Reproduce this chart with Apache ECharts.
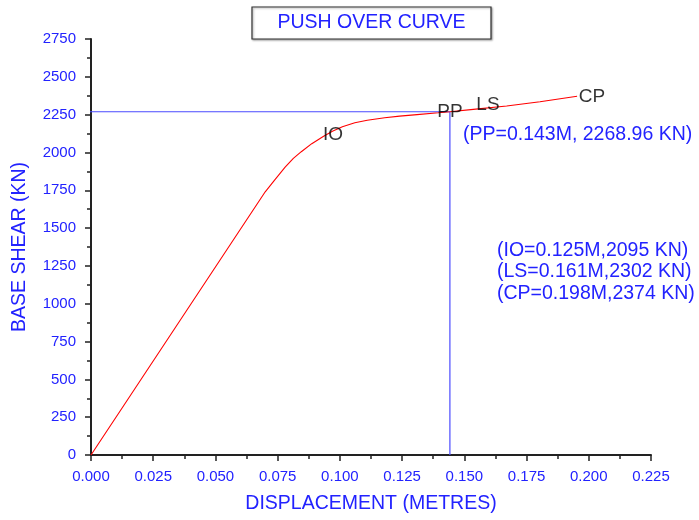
<!DOCTYPE html>
<html>
<head>
<meta charset="utf-8">
<script src="https://cdn.jsdelivr.net/npm/echarts@6/dist/echarts.min.js"></script>
<style>
html,body{margin:0;padding:0;background:#fff;}
#chart{width:699px;height:520px;}
</style>
</head>
<body>
<div id="chart"></div>
<script>
// Pushover curve data (displacement in m, base shear in kN)
var dispX = [0, 0.070, 0.074, 0.078, 0.0813, 0.0845, 0.0887, 0.0933, 0.097, 0.101, 0.106, 0.111, 0.118, 0.124, 0.131, 0.1395, 0.1442, 0.1536, 0.167, 0.1804, 0.1953];
var shearY = [0, 1740, 1822, 1903, 1961, 2005, 2058, 2106, 2140, 2170, 2196, 2213, 2229, 2240, 2250, 2262, 2269, 2285, 2307, 2335, 2372];

// Performance point guide lines
var ppX = 0.1442;
var ppY = 2269;
var guideStartX = -0.0055;

// Point labels placed on the curve
var ptNames = ['IO', 'PP', 'LS', 'CP'];
var ptX = [0.0972, 0.1442, 0.1595, 0.2013];
var ptY = [2115, 2269, 2313, 2366];

// Annotation text
var ppNote = '(PP=0.143M, 2268.96 KN)';
var notes = ['(IO=0.125M,2095 KN)', '(LS=0.161M,2302 KN)', '(CP=0.198M,2374 KN)'];

var titleText = 'PUSH OVER CURVE';
var xName = 'DISPLACEMENT (METRES)';
var yName = 'BASE SHEAR (KN)';

var BLUE = '#2222ff';
var FONT = 'Liberation Sans, Arial, sans-serif';

var curve = dispX.map(function (x, i) { return [x, shearY[i]]; });
var pts = ptNames.map(function (n, i) { return { name: n, value: [ptX[i], ptY[i]] }; });

var chart = echarts.init(document.getElementById('chart'));
var graphics = [
  { type: 'rect', shape: { x: 252, y: 7, width: 239, height: 32 },
    style: { fill: '#fff', stroke: '#333', lineWidth: 1.2, shadowBlur: 2, shadowOffsetX: 1, shadowOffsetY: 1, shadowColor: 'rgba(0,0,0,0.35)' } },
  { type: 'text', x: 371.5, y: 23,
    style: { text: titleText, fill: BLUE, font: '19.5px ' + FONT, textAlign: 'center', textVerticalAlign: 'middle' } },
  { type: 'text', x: 463, y: 135,
    style: { text: ppNote, fill: BLUE, font: '19.5px ' + FONT, textAlign: 'left', textVerticalAlign: 'middle' } }
];
notes.forEach(function (t, i) {
  graphics.push({ type: 'text', x: 497, y: 250.5 + i * 21.5,
    style: { text: t, fill: BLUE, font: '19.5px ' + FONT, textAlign: 'left', textVerticalAlign: 'middle' } });
});

chart.setOption({
  animation: false,
  backgroundColor: '#fff',
  grid: { left: 91, right: 48, top: 39, bottom: 65, containLabel: false },
  xAxis: {
    type: 'value', min: 0, max: 0.225, interval: 0.025,
    name: xName, nameLocation: 'middle', nameGap: 39,
    nameTextStyle: { color: BLUE, fontSize: 19.5, fontFamily: FONT },
    axisLine: { show: true, onZero: false, lineStyle: { color: '#222', width: 2 } },
    axisTick: { show: true, inside: false, length: 6, lineStyle: { color: '#222', width: 1.5 } },
    minorTick: { show: true, splitNumber: 2, length: 4, lineStyle: { color: '#222', width: 1.5 } },
    splitLine: { show: false },
    axisLabel: { color: BLUE, fontSize: 15, fontFamily: FONT, margin: 14,
      formatter: function (v) { return v.toFixed(3); } }
  },
  yAxis: {
    type: 'value', min: 0, max: 2750, interval: 250,
    name: yName, nameLocation: 'middle', nameGap: 61, nameRotate: 90,
    nameTextStyle: { color: BLUE, fontSize: 19.5, fontFamily: FONT },
    axisLine: { show: true, onZero: false, lineStyle: { color: '#222', width: 2 } },
    axisTick: { show: true, inside: false, length: 6, lineStyle: { color: '#222', width: 1.5 } },
    minorTick: { show: true, splitNumber: 2, length: 4, lineStyle: { color: '#222', width: 1.5 } },
    splitLine: { show: false },
    axisLabel: { color: BLUE, fontSize: 15, fontFamily: FONT, margin: 15,
      formatter: function (v) { return String(v); } }
  },
  series: [
    { type: 'line', data: [[guideStartX, ppY], [ppX, ppY], [ppX, 0]], clip: false,
      showSymbol: false, symbol: 'none', lineStyle: { color: '#4b4bff', width: 1.2 }, z: 2 },
    { type: 'line', data: curve, showSymbol: false, symbol: 'none', smooth: false,
      lineStyle: { color: '#ff0000', width: 1.1 }, z: 3 },
    { type: 'scatter', data: pts, symbolSize: 0, z: 4,
      label: { show: true, position: 'inside', formatter: '{b}', color: '#000', fontSize: 19, fontFamily: FONT } }
  ],
  graphic: graphics
});
</script>
</body>
</html>
